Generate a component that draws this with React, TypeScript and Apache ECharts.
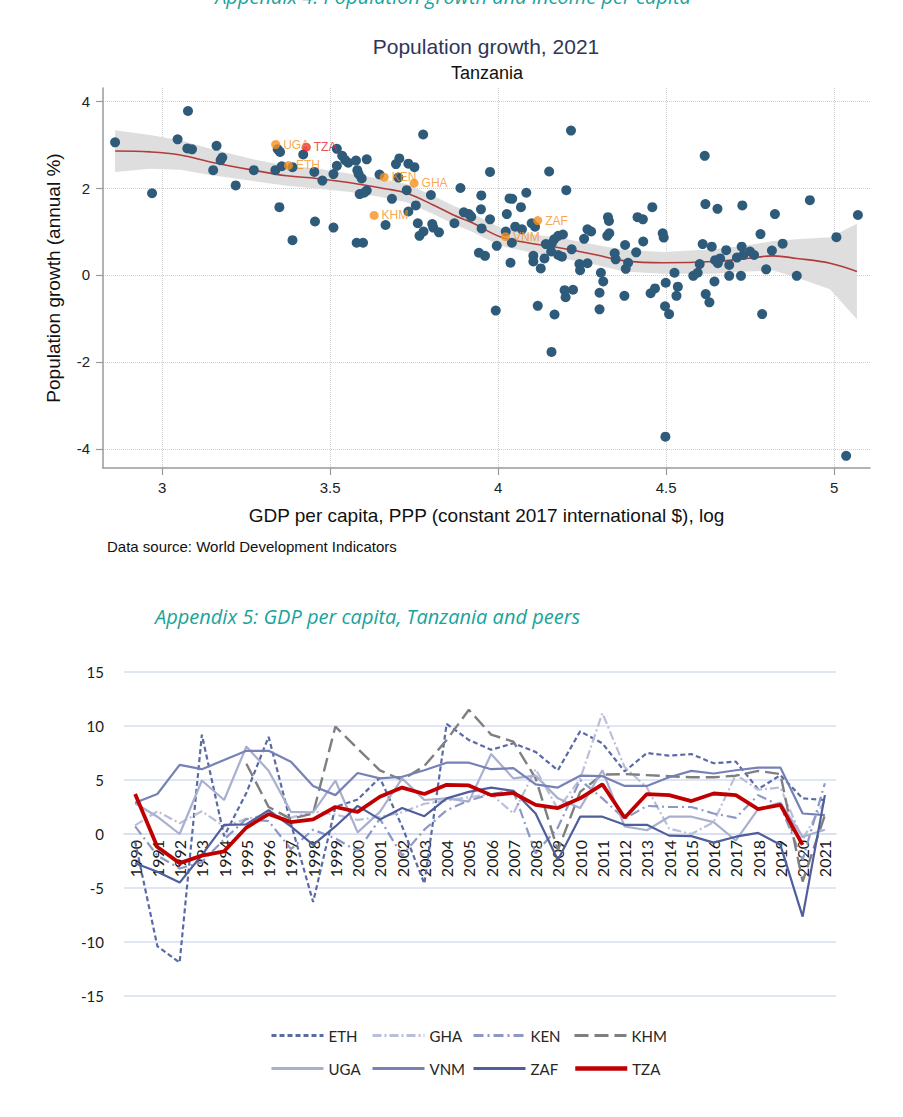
import React, { useEffect, useRef } from "react";
import * as echarts from "echarts";

// ---------- Top chart: population growth vs log GDP per capita ----------
const xTicks = [3, 3.5, 4, 4.5, 5];
const yTicks = [-4, -2, 0, 2, 4];

const countryPoints: [number, number][] = [
  [2.86, 3.05], [2.97, 1.88], [3.077, 3.77], [3.046, 3.12], [3.075, 2.91], [3.089, 2.89], [3.162, 2.97], [3.179, 2.7],
  [3.174, 2.64], [3.152, 2.41], [3.219, 2.06], [3.273, 2.41], [3.344, 2.89], [3.351, 2.83], [3.42, 2.77], [3.356, 2.5],
  [3.388, 2.48], [3.337, 2.41], [3.453, 2.37], [3.477, 2.17], [3.51, 2.32], [3.52, 2.9], [3.52, 2.51], [3.536, 2.74],
  [3.545, 2.64], [3.554, 2.58], [3.577, 2.63], [3.581, 2.41], [3.585, 2.32], [3.594, 2.22], [3.609, 2.66], [3.588, 1.86],
  [3.609, 1.94], [3.601, 1.89], [3.349, 1.56], [3.455, 1.23], [3.51, 1.09], [3.388, 0.8], [3.579, 0.74], [3.598, 0.74],
  [3.647, 2.31], [3.703, 2.24], [3.696, 2.55], [3.706, 2.68], [3.733, 2.56], [3.751, 2.48], [3.777, 3.23], [3.728, 1.95],
  [3.684, 1.75], [3.665, 1.15], [3.733, 1.46], [3.755, 1.6], [3.8, 1.84], [3.761, 1.19], [3.804, 1.17], [3.807, 1.09],
  [3.824, 0.98], [3.778, 1.0], [3.766, 0.9], [3.888, 2.0], [3.87, 1.19], [3.898, 1.44], [3.913, 1.4], [3.92, 1.34],
  [3.95, 1.83], [3.949, 1.51], [3.976, 2.37], [3.976, 1.28], [3.951, 1.07], [3.996, 0.67], [3.943, 0.51], [3.961, 0.44],
  [4.217, 3.32], [4.152, 2.38], [4.203, 1.95], [4.034, 1.76], [4.042, 1.75], [4.084, 1.89], [4.068, 1.56], [4.026, 1.4],
  [4.1, 1.19], [4.11, 1.11], [4.023, 1.0], [4.051, 1.11], [4.071, 1.05], [4.041, 0.74], [4.037, 0.28], [4.105, 0.44],
  [4.105, 0.31], [4.127, 0.15], [4.138, 0.38], [4.142, 0.71], [4.16, 0.73], [4.167, 0.82], [4.179, 0.9], [4.193, 0.93],
  [4.158, 0.54], [4.179, 0.46], [4.19, 0.42], [4.219, 0.59], [4.242, 0.25], [4.266, 0.27], [4.244, 0.11], [4.256, 0.83],
  [4.266, 1.05], [4.277, 1.0], [4.327, 1.33], [4.33, 1.24], [4.325, 0.9], [4.331, 0.96], [4.347, 0.5], [4.35, 0.36],
  [4.378, 0.69], [4.411, 0.52], [4.432, 0.77], [4.415, 1.33], [4.431, 1.28], [4.459, 1.56], [4.49, 0.96], [4.493, 0.86],
  [4.387, 0.28], [4.38, 0.14], [4.306, 0.05], [4.313, -0.15], [4.525, 0.05], [4.499, -0.18], [4.467, -0.31], [4.535, -0.27],
  [4.615, 2.74], [4.617, 1.63], [4.653, 1.52], [4.727, 1.6], [4.609, 0.71], [4.636, 0.65], [4.6, 0.25], [4.581, -0.02],
  [4.594, 0.05], [4.644, -0.15], [4.646, 0.34], [4.654, 0.27], [4.661, 0.38], [4.688, 0.23], [4.688, -0.02], [4.679, 0.57],
  [4.711, 0.4], [4.725, 0.65], [4.73, 0.46], [4.75, 0.54], [4.762, 0.46], [4.723, -0.02], [4.781, 0.94], [4.815, 0.56],
  [4.824, 1.4], [4.798, 0.13], [4.847, 0.72], [4.889, -0.02], [4.928, 1.72], [5.007, 0.87], [5.071, 1.38],
  [4.118, -0.71], [4.168, -0.91], [4.198, -0.35], [4.223, -0.34], [4.201, -0.51], [4.302, -0.41], [4.302, -0.79],
  [4.376, -0.48], [4.454, -0.42], [4.531, -0.48], [4.497, -0.72], [4.509, -0.9], [4.618, -0.44], [4.629, -0.63],
  [4.786, -0.9], [3.993, -0.82], [4.159, -1.77], [4.498, -3.72], [5.036, -4.16],
];

const peerCodes = ["UGA", "ETH", "KEN", "GHA", "KHM", "ZAF", "VNM", "TZA"];
const peerGdp = [3.338, 3.376, 3.661, 3.75, 3.631, 4.118, 4.022, 3.429];
const peerPop = [3.0, 2.52, 2.25, 2.11, 1.37, 1.25, 0.88, 2.94];

const fitX = [2.86, 2.964, 3.054, 3.143, 3.271, 3.371, 3.46, 3.56, 3.659, 3.728, 3.807, 3.867, 3.926, 4.006, 4.095, 4.194, 4.294, 4.373, 4.492, 4.641, 4.74, 4.819, 4.889, 4.988, 5.068];
const fitY = [2.85, 2.83, 2.76, 2.6, 2.41, 2.28, 2.22, 2.12, 1.99, 1.88, 1.61, 1.38, 1.19, 0.88, 0.73, 0.61, 0.46, 0.33, 0.28, 0.31, 0.38, 0.44, 0.38, 0.27, 0.08];
const ciHigh = [3.33, 3.22, 3.1, 2.9, 2.66, 2.51, 2.45, 2.33, 2.2, 2.09, 1.82, 1.59, 1.4, 1.09, 0.94, 0.84, 0.69, 0.58, 0.53, 0.59, 0.68, 0.78, 0.82, 0.87, 1.18];
const ciLow = [2.37, 2.44, 2.42, 2.3, 2.16, 2.05, 1.99, 1.91, 1.78, 1.67, 1.4, 1.17, 0.98, 0.67, 0.52, 0.38, 0.23, 0.08, 0.03, 0.03, 0.08, 0.1, -0.06, -0.33, -1.02];

// ---------- Bottom chart: GDP per capita growth ----------
const years = ["1990", "1991", "1992", "1993", "1994", "1995", "1996", "1997", "1998", "1999", "2000", "2001", "2002", "2003", "2004", "2005", "2006", "2007", "2008", "2009", "2010", "2011", "2012", "2013", "2014", "2015", "2016", "2017", "2018", "2019", "2020", "2021"];
const ETH = [-0.7, -10.4, -11.9, 9.2, -0.2, 3.8, 9.0, 1.0, -6.3, 2.5, 3.2, 5.2, 0.7, -4.6, 10.2, 8.7, 7.8, 8.4, 7.6, 5.9, 9.5, 8.4, 5.8, 7.5, 7.25, 7.4, 6.55, 6.7, 4.15, 5.45, 3.3, 3.15];
const GHA = [0.8, 2.1, 1.0, 2.1, 0.7, 1.4, 1.8, 1.5, 2.1, 1.8, 1.3, 1.6, 2.0, 2.8, 3.1, 3.4, 3.7, 1.9, 6.0, 2.3, 5.1, 11.2, 6.2, 4.3, 0.5, 0.0, 1.1, 5.5, 4.1, 4.3, -0.5, 3.1];
const KEN = [0.7, -2.0, -3.2, -2.6, -0.5, 1.4, 1.2, -1.4, 0.4, -0.4, -1.6, 1.4, -2.0, 0.4, 2.2, 3.1, 3.7, 4.0, -1.8, 0.6, 5.0, 3.3, 1.4, 2.6, 2.5, 2.5, 1.9, 1.5, 3.6, 2.6, -2.4, 4.7];
const KHM = [null, null, null, null, null, 6.5, 2.5, 1.4, 1.9, 9.95, 7.9, 5.9, 5.0, 6.3, 8.7, 11.5, 9.2, 8.55, 5.15, -1.5, 3.9, 5.5, 5.55, 5.45, 5.35, 5.25, 5.25, 5.4, 5.85, 5.55, -4.4, 1.75];
const UGA = [2.85, 1.6, 0.0, 4.95, 3.15, 8.1, 5.85, 2.05, 2.0, 4.95, 0.15, 2.05, 5.15, 3.15, 3.3, 3.0, 7.4, 5.15, 5.4, 3.3, 2.4, 5.9, 0.7, 0.35, 1.6, 1.6, 1.1, -0.6, 2.3, 2.9, -0.25, 0.4];
const VNM = [2.9, 3.7, 6.4, 6.0, 6.85, 7.7, 7.7, 6.7, 4.45, 3.6, 5.65, 5.15, 5.3, 5.9, 6.6, 6.6, 6.0, 6.1, 4.6, 4.3, 5.4, 5.35, 4.45, 4.45, 5.25, 5.85, 5.6, 5.9, 6.15, 6.15, 1.9, 1.75];
const ZAF = [-2.7, -3.5, -4.5, -1.95, 0.85, 0.9, 2.2, 0.7, -1.0, 0.7, 2.6, 1.35, 2.4, 1.65, 3.3, 3.9, 4.3, 4.0, 1.9, -2.4, 1.6, 1.6, 0.85, 0.85, -0.15, -0.2, -0.8, -0.25, 0.1, -1.0, -7.65, 3.6];
const TZA = [3.7, -1.2, -2.7, -2.0, -1.6, 0.6, 1.85, 1.1, 1.35, 2.5, 2.05, 3.45, 4.3, 3.7, 4.55, 4.5, 3.6, 3.8, 2.7, 2.4, 3.3, 4.6, 1.5, 3.7, 3.6, 3.05, 3.75, 3.6, 2.3, 2.7, -1.0, null];
const growthTicks = [-15, 15, 5];

const ARIAL = "'Liberation Sans', Arial, sans-serif";
const CAL = "Lato, 'Open Sans', sans-serif";
const HEAD = "'Open Sans', Lato, sans-serif";
const ORANGE = "#f7901e";
const RED = "#e8202a";

const lineDefs = [
  { name: "ETH", data: ETH, color: "#5a6aa6", type: [5, 3], width: 2.2 },
  { name: "GHA", data: GHA, color: "#b9bfd9", type: [9, 3, 2, 3], width: 2.2 },
  { name: "KEN", data: KEN, color: "#8e98c4", type: [10, 4, 2, 4], width: 2.2 },
  { name: "KHM", data: KHM, color: "#7f7f7f", type: [14, 6], width: 2.4 },
  { name: "UGA", data: UGA, color: "#a9b0cf", type: "solid", width: 2.2 },
  { name: "VNM", data: VNM, color: "#7681b6", type: "solid", width: 2.2 },
  { name: "ZAF", data: ZAF, color: "#4f5e9c", type: "solid", width: 2.2 },
  { name: "TZA", data: TZA, color: "#c00000", type: "solid", width: 3.8 },
];

function buildOption(): any {
  const legends = lineDefs.map((d, i) => ({
    data: [d.name],
    left: 270 + (i % 4) * 101,
    top: i < 4 ? 1028 : 1061,
    padding: 0,
    itemWidth: 52,
    itemHeight: 14,
    itemGap: 0,
    selectedMode: false,
    itemStyle: { opacity: 0, borderWidth: 0 },
    lineStyle: { width: d.name === "TZA" ? 4.5 : 3, opacity: 1 },
    textStyle: { fontSize: 15, fontFamily: CAL, color: "#262626" },
  }));

  return {
    animation: false,
    backgroundColor: "#ffffff",
    graphic: [
      { type: "text", x: 453, y: 6, style: { text: "Appendix 4: Population growth and income per capita", fill: "#19a39a", fontSize: 20, fontFamily: HEAD, fontStyle: "italic", align: "center", verticalAlign: "bottom" } },
      { type: "text", x: 486, y: 46, style: { text: "Population growth, 2021", fill: "#2f3659", fontSize: 21, fontFamily: ARIAL, align: "center", verticalAlign: "middle" } },
      { type: "text", x: 487, y: 73, style: { text: "Tanzania", fill: "#111", fontSize: 18, fontFamily: ARIAL, align: "center", verticalAlign: "middle" } },
      { type: "text", x: 107, y: 546, style: { text: "Data source: World Development Indicators", fill: "#111", fontSize: 15, fontFamily: ARIAL, align: "left", verticalAlign: "middle" } },
      { type: "text", x: 155, y: 616, style: { text: "Appendix 5: GDP per capita, Tanzania and peers", fill: "#19a39a", fontSize: 20, fontFamily: HEAD, fontStyle: "italic", align: "left", verticalAlign: "middle" } },
    ],
    legend: legends,
    grid: [
      { left: 103, top: 88, width: 767, height: 380 },
      { left: 124, top: 672, width: 712, height: 324 },
    ],
    xAxis: [
      {
        gridIndex: 0, type: "value", min: 2.824, max: 5.107,
        name: "GDP per capita, PPP (constant 2017 international $), log",
        nameLocation: "middle", nameGap: 38,
        nameTextStyle: { fontSize: 19, fontFamily: ARIAL, color: "#111" },
        axisLine: { show: true, onZero: false, lineStyle: { color: "#9a9a9a", width: 1.5 } },
        axisTick: { show: true, length: 7, customValues: xTicks, lineStyle: { color: "#9a9a9a", width: 1.2 } },
        axisLabel: { customValues: xTicks, fontSize: 15, fontFamily: ARIAL, color: "#222", margin: 12 },
        splitLine: { show: true, lineStyle: { type: "dotted", color: "#cfcfcf", width: 1 } },
      },
      {
        gridIndex: 1, type: "category", data: years, boundaryGap: true,
        position: "bottom", offset: -162,
        axisLine: { show: true, onZero: false, lineStyle: { color: "#d6def1", width: 1.5 } },
        axisTick: { show: false },
        axisLabel: { rotate: 90, interval: 0, fontSize: 16, fontFamily: CAL, color: "#1a1a1a", margin: 6 },
        splitLine: { show: false },
      },
    ],
    yAxis: [
      {
        gridIndex: 0, type: "value", min: -4.44, max: 4.3,
        name: "Population growth (annual %)",
        nameLocation: "middle", nameGap: 40,
        nameTextStyle: { fontSize: 19, fontFamily: ARIAL, color: "#111" },
        axisLine: { show: true, onZero: false, lineStyle: { color: "#9a9a9a", width: 1.5 } },
        axisTick: { show: true, length: 7, customValues: yTicks, lineStyle: { color: "#9a9a9a", width: 1.2 } },
        axisLabel: { customValues: yTicks, fontSize: 15, fontFamily: ARIAL, color: "#222", margin: 13 },
        splitLine: { show: true, lineStyle: { type: "dotted", color: "#cfcfcf", width: 1 } },
      },
      {
        gridIndex: 1, type: "value", min: growthTicks[0], max: growthTicks[1], interval: growthTicks[2],
        axisLine: { show: false }, axisTick: { show: false },
        axisLabel: { fontSize: 15, fontFamily: CAL, color: "#1a1a1a", margin: 20 },
        splitLine: { show: true, lineStyle: { color: "#d6def1", width: 1.5 } },
      },
    ],
    series: [
      {
        type: "custom", name: "ci", xAxisIndex: 0, yAxisIndex: 0, silent: true, z: 1,
        data: [[fitX[0], fitY[0]]],
        renderItem: (params: any, api: any) => {
          const pts: number[][] = [];
          for (let i = 0; i < fitX.length; i++) pts.push(api.coord([fitX[i], ciHigh[i]]));
          for (let i = fitX.length - 1; i >= 0; i--) pts.push(api.coord([fitX[i], ciLow[i]]));
          return { type: "polygon", shape: { points: pts }, style: { fill: "#dedede" } };
        },
      },
      {
        type: "line", name: "fit", xAxisIndex: 0, yAxisIndex: 0, z: 2, smooth: 0.4, symbol: "none",
        data: fitX.map((x, i) => [x, fitY[i]]),
        lineStyle: { color: "#b23b3b", width: 1.6 },
      },
      {
        type: "scatter", name: "countries", xAxisIndex: 0, yAxisIndex: 0, z: 3, symbolSize: 10,
        data: countryPoints,
        itemStyle: { color: "#2f5b7a", opacity: 1 },
      },
      {
        type: "scatter", name: "peers", xAxisIndex: 0, yAxisIndex: 0, z: 4, symbolSize: 9,
        data: peerCodes.map((c, i) => ({
          name: c,
          value: [peerGdp[i], peerPop[i]],
          itemStyle: { color: c === "TZA" ? RED : ORANGE },
          label: { color: c === "TZA" ? RED : ORANGE },
        })),
        label: { show: true, position: "right", distance: 3, formatter: "{b}", fontSize: 12, fontFamily: ARIAL },
      },
      ...lineDefs.map((d, i) => ({
        type: "line", name: d.name, xAxisIndex: 1, yAxisIndex: 1, z: 2 + i,
        data: d.data, symbol: "none", connectNulls: false,
        lineStyle: { color: d.color, width: d.width, type: d.type },
        itemStyle: { color: d.color },
      })),
    ],
  };
}

export default function App() {
  const ref = useRef<HTMLDivElement>(null);
  useEffect(() => {
    if (!ref.current) return;
    const chart = echarts.init(ref.current, null, { renderer: "svg" });
    chart.setOption(buildOption());
    return () => chart.dispose();
  }, []);
  return <div ref={ref} style={{ position: "absolute", left: 0, top: 0, width: 903, height: 1117 }} />;
}
